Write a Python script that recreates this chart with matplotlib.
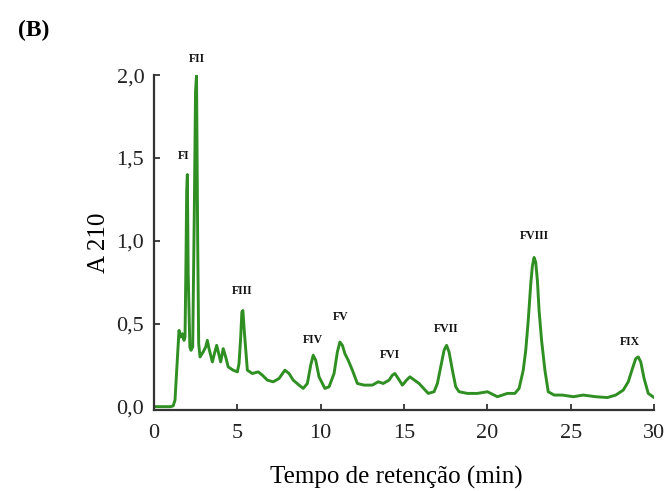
import matplotlib
matplotlib.use("Agg")
import matplotlib.pyplot as plt
from matplotlib.ticker import FuncFormatter

# Chromatogram trace (time in min, absorbance at 210 nm)
time = [0.0, 0.5, 1.0, 1.15, 1.26, 1.35, 1.5, 1.6, 1.7, 1.8, 1.86, 1.92, 1.96, 2.0, 2.05,
        2.15, 2.22, 2.32, 2.42, 2.49, 2.55, 2.62, 2.68, 2.76, 2.95, 3.1, 3.2, 3.3, 3.5,
        3.65, 3.76, 3.88, 4.0, 4.15, 4.3, 4.45, 4.75, 5.0, 5.1, 5.2, 5.27, 5.33, 5.42,
        5.6, 5.9, 6.25, 6.5, 6.8, 7.15, 7.5, 7.85, 8.1, 8.35, 8.7, 8.95, 9.2, 9.4, 9.55,
        9.7, 9.9, 10.25, 10.5, 10.8, 11.0, 11.15, 11.3, 11.45, 11.65, 11.9, 12.2, 12.6,
        13.1, 13.45, 13.75, 14.1, 14.3, 14.45, 14.65, 14.9, 15.15, 15.35, 15.9, 16.45,
        16.8, 17.0, 17.2, 17.4, 17.55, 17.7, 17.9, 18.1, 18.3, 18.8, 19.4, 20.0, 20.6,
        21.2, 21.65, 21.9, 22.15, 22.3, 22.45, 22.6, 22.7, 22.8, 22.9, 23.0, 23.1, 23.25,
        23.45, 23.65, 24.0, 24.5, 25.15, 25.75, 26.5, 27.2, 27.7, 28.15, 28.45, 28.7,
        28.9, 29.05, 29.2, 29.4, 29.65, 30.0]
absorb = [0.0, 0.0, 0.0, 0.005, 0.04, 0.2, 0.46, 0.42, 0.44, 0.40, 0.42, 0.9, 1.30, 1.40,
          0.8, 0.36, 0.34, 0.36, 1.2, 1.9, 2.0, 1.0, 0.38, 0.30, 0.33, 0.36, 0.40, 0.35,
          0.27, 0.33, 0.37, 0.32, 0.27, 0.35, 0.30, 0.24, 0.22, 0.21, 0.26, 0.42, 0.57,
          0.58, 0.45, 0.22, 0.20, 0.21, 0.19, 0.16, 0.15, 0.17, 0.22, 0.20, 0.16, 0.13,
          0.11, 0.14, 0.25, 0.31, 0.28, 0.18, 0.11, 0.12, 0.20, 0.33, 0.39, 0.37, 0.32,
          0.28, 0.22, 0.14, 0.13, 0.13, 0.15, 0.14, 0.16, 0.19, 0.20, 0.17, 0.13, 0.16,
          0.18, 0.14, 0.08, 0.09, 0.14, 0.24, 0.34, 0.37, 0.33, 0.22, 0.12, 0.09, 0.08,
          0.08, 0.09, 0.06, 0.08, 0.08, 0.11, 0.22, 0.34, 0.52, 0.74, 0.85, 0.90, 0.87,
          0.76, 0.58, 0.40, 0.22, 0.09, 0.07, 0.07, 0.06, 0.07, 0.06, 0.055, 0.07, 0.10,
          0.15, 0.23, 0.29, 0.30, 0.27, 0.17, 0.08, 0.055]

# Fraction labels and their positions
frac_names = ["FI", "FII", "FIII", "FIV", "FV", "FVI", "FVII", "FVIII", "FIX"]
frac_t = [1.8, 2.6, 5.3, 9.55, 11.2, 14.15, 17.5, 22.8, 28.55]
frac_a = [1.51, 2.10, 0.70, 0.40, 0.54, 0.31, 0.47, 1.03, 0.39]

x_ticks = [0, 5, 10, 15, 20, 25, 30]
y_ticks = [0.0, 0.5, 1.0, 1.5, 2.0]

plt.rcParams['font.family'] = ['Liberation Serif', 'DejaVu Serif']

fig = plt.figure(figsize=(6.65, 4.91), dpi=100)
ax = fig.add_axes([0.2316, 0.165, 0.752, 0.682])
ax.plot(time, absorb, color="#2f8f22", lw=2.1, solid_joinstyle='round')
ax.set_xlim(0, 30)
ax.set_ylim(-0.02, 2.0)
ax.set_xticks(x_ticks)
ax.set_yticks(y_ticks)
ax.yaxis.set_major_formatter(FuncFormatter(lambda v, p: f"{v:.1f}".replace('.', ',')))
ax.tick_params(direction='in', length=4, width=1.2, labelsize=16, colors='#222222')
ax.tick_params(axis='x', pad=10)
ax.tick_params(axis='y', pad=7)
for s in ['top', 'right']:
    ax.spines[s].set_visible(False)
for s in ['left', 'bottom']:
    ax.spines[s].set_linewidth(1.6)
    ax.spines[s].set_color('#333333')

for n, t, a in zip(frac_names, frac_t, frac_a):
    ax.text(t, a, n, ha='center', va='center', fontsize=8.5, fontweight='bold',
            clip_on=False, color='#111111')

ax.set_xlabel("Tempo de retenção (min)", fontsize=18)
ax.xaxis.set_label_coords(0.484, -0.166)
ax.set_ylabel("A 210", fontsize=18)
ax.yaxis.set_label_coords(-0.088, 0.5)
fig.text(0.027, 0.937, "(B)", fontsize=17, fontweight='bold', ha='left', va='center')

fig.savefig("out.png", dpi=100)
